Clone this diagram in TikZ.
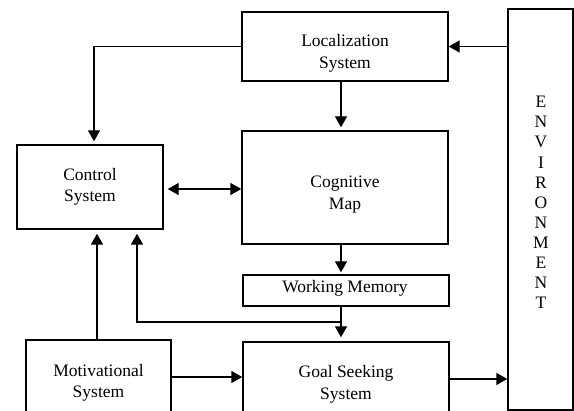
\documentclass[tikz,border=0pt]{standalone}
\usepackage{fontspec}
\setmainfont{Liberation Serif}
\usetikzlibrary{arrows.meta,calc}
\begin{document}
\begin{tikzpicture}[x=1pt,y=-1pt,
  box/.style={draw,line width=1.4pt,inner sep=0pt},
  txt/.style={inner sep=0pt,align=center,font=\fontsize{17.5}{21.5}\selectfont},
  arr/.style={line width=1.4pt,-{Triangle[length=11pt,width=12pt]}},
  darr/.style={line width=1.4pt,{Triangle[length=11pt,width=12pt]}-{Triangle[length=11pt,width=12pt]}}]
\clip (0,0) rectangle (574,411);
\fill[white] (0,0) rectangle (574,411);
\node[box,minimum width=206pt,minimum height=69pt] (loc) at (345,46.5) {};
\node[box,minimum width=146pt,minimum height=84pt] (ctrl) at (90,187) {};
\node[box,minimum width=206pt,minimum height=113pt] (cog) at (345,187.5) {};
\node[box,minimum width=206pt,minimum height=31pt] (wm) at (346,290.5) {};
\node[box,minimum width=145pt,minimum height=90pt] (mot) at (98.5,385) {};
\node[box,minimum width=206pt,minimum height=88pt] (goal) at (346,386) {};
\node[box,minimum width=65pt,minimum height=401pt] (env) at (540.5,209.5) {};
\node[txt] (loct) at (345,53.5) {Localization\\System};
\node[txt] (ctrlt) at (90,187) {Control\\System};
\node[txt] (cogt) at (345,194.5) {Cognitive\\Map};
\node[txt] (wmt) at (345,288.5) {Working Memory};
\node[txt] (mott) at (98.5,383) {Motivational\\System};
\node[txt] (goalt) at (346,384.5) {Goal Seeking\\System};
\node[txt,font=\fontsize{17.5}{20.1}\selectfont] (envt) at (541,202.5) {E\\N\\V\\I\\R\\O\\N\\M\\E\\N\\T};
\coordinate (j) at (341,322);
\draw[arr,shorten >=3pt] (loc.west) -| ([xshift=4pt]ctrl.north);
\draw[arr] (env.west |- loc.east) -- (loc.east);
\draw[arr,shorten >=3pt] ([xshift=-4pt]loc.south) -- ([xshift=-4pt]cog.north);
\draw[darr,shorten <=4pt] ([yshift=-2pt]ctrl.east) -- ([yshift=-2pt]ctrl.east -| cog.west);
\draw[arr,shorten >=2pt] ([xshift=-4pt]cog.south) -- ([xshift=-5pt]wm.north);
\draw[arr,shorten >=4pt] ([xshift=-5pt]wm.south) -- ([xshift=-5pt]goal.north);
\draw[arr,shorten >=4pt] (j) -| ([xshift=47pt]ctrl.south);
\draw[arr,shorten >=4pt] ([xshift=-1.5pt]mot.north) -- ([xshift=7pt]ctrl.south);
\draw[arr] (mot.east |- 0,377) -- (goal.west |- 0,377);
\draw[arr] (goal.east |- 0,379) -- (env.west |- 0,379);
\end{tikzpicture}
\end{document}
